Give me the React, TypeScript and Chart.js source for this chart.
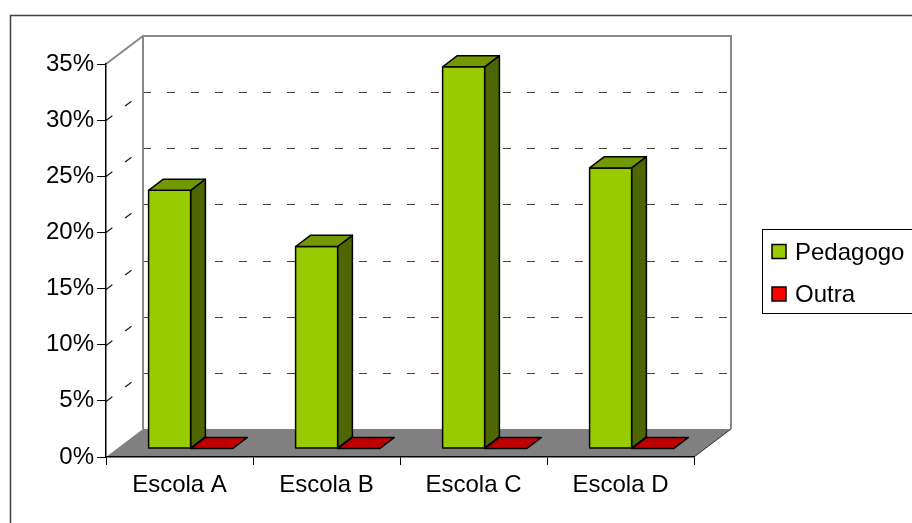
import React, { useEffect, useRef } from "react";
import { Chart, registerables } from "chart.js";

Chart.register(...registerables);

// Data (percent)
const categories = ["Escola A", "Escola B", "Escola C", "Escola D"];
const seriesNames = ["Pedagogo", "Outra"];
const pedagogo = [23, 18, 34, 25];
const outra = [0, 0, 0, 0];
const yMax = 35;
const yStep = 5;

const seriesColors = ["#99CC00", "#FF0000"];

const FONT = '"Liberation Sans", Arial, sans-serif';

// Depth of the 3D box (pixels) and where the bar row sits inside it
const DEPTH = { x: 37, y: -28 };
const ROW_FRONT = 0.3;
const ROW_BACK = 0.7;

function shade(hex: string, f: number): string {
  const n = parseInt(hex.slice(1), 16);
  const r = Math.round(((n >> 16) & 255) * f);
  const g = Math.round(((n >> 8) & 255) * f);
  const b = Math.round((n & 255) * f);
  return `rgb(${r},${g},${b})`;
}

function poly(ctx: CanvasRenderingContext2D, pts: number[][]) {
  ctx.beginPath();
  ctx.moveTo(pts[0][0], pts[0][1]);
  for (let i = 1; i < pts.length; i++) ctx.lineTo(pts[i][0], pts[i][1]);
  ctx.closePath();
}

// Frame, walls, floor and dashed gridlines
const boxPlugin = {
  id: "box3d",
  beforeDraw(chart: any) {
    const { ctx, chartArea: a, scales } = chart;
    const ys = scales.y;
    const L = a.left, R = a.right, T = a.top, B = a.bottom;
    const dx = DEPTH.x, dy = DEPTH.y;
    ctx.save();

    // outer frame
    ctx.strokeStyle = "#404040";
    ctx.lineWidth = 1.5;
    ctx.strokeRect(10.5, 15.5, 1000, 600);

    // floor
    ctx.fillStyle = "#808080";
    poly(ctx, [[L, B], [R, B], [R + dx, B + dy], [L + dx, B + dy]]);
    ctx.fill();
    ctx.strokeStyle = "#303030";
    ctx.lineWidth = 1;
    ctx.beginPath();
    ctx.moveTo(R, B);
    ctx.lineTo(R + dx, B + dy);
    ctx.stroke();

    // gridlines on side and back walls
    ctx.setLineDash([8, 16]);
    ys.ticks.forEach((t: any) => {
      if (t.value <= 0 || t.value >= yMax) return;
      const py = Math.round(ys.getPixelForValue(t.value)) + 0.5;
      ctx.strokeStyle = "#1a1a1a";
      ctx.lineWidth = 1.2;
      ctx.beginPath();
      ctx.moveTo(L, py);
      ctx.lineTo(L + dx, py + dy);
      ctx.stroke();
      ctx.strokeStyle = "#404040";
      ctx.lineWidth = 1;
      ctx.beginPath();
      ctx.moveTo(L + dx, py + dy);
      ctx.lineTo(R + dx, py + dy);
      ctx.stroke();
    });
    ctx.setLineDash([]);

    // wall edges
    ctx.strokeStyle = "#888888";
    ctx.lineWidth = 2;
    ctx.beginPath();
    ctx.moveTo(L, T);
    ctx.lineTo(L + dx, T + dy);
    ctx.lineTo(R + dx, T + dy);
    ctx.lineTo(R + dx, B + dy);
    ctx.moveTo(L + dx, T + dy);
    ctx.lineTo(L + dx, B + dy);
    ctx.stroke();
    ctx.restore();
  },
};

// Bars drawn as boxes: front, top and side faces
const barsPlugin = {
  id: "bars3d",
  beforeDatasetsDraw(chart: any) {
    const ctx = chart.ctx;
    const ox = DEPTH.x * ROW_FRONT, oy = DEPTH.y * ROW_FRONT;
    const bx = DEPTH.x * (ROW_BACK - ROW_FRONT), by = DEPTH.y * (ROW_BACK - ROW_FRONT);
    ctx.save();
    ctx.strokeStyle = "#000";
    ctx.lineWidth = 1.5;
    ctx.lineJoin = "round";
    for (let i = 0; i < categories.length; i++) {
      chart.data.datasets.forEach((ds: any, di: number) => {
        const el = chart.getDatasetMeta(di).data[i];
        const { x, y, base, width } = el.getProps(["x", "y", "base", "width"], true);
        const color = ds.backgroundColor as string;
        const x0 = x - width / 2 + ox, x1 = x + width / 2 + ox;
        const yt = y + oy, yb = base + oy;
        // side and front
        if (yb - yt > 0.5) {
          ctx.fillStyle = shade(color, 0.5);
          poly(ctx, [[x1, yt], [x1 + bx, yt + by], [x1 + bx, yb + by], [x1, yb]]);
          ctx.fill();
          ctx.stroke();
          ctx.fillStyle = color;
          poly(ctx, [[x0, yt], [x1, yt], [x1, yb], [x0, yb]]);
          ctx.fill();
          ctx.stroke();
        }
        // top
        ctx.fillStyle = shade(color, 0.75);
        poly(ctx, [[x0, yt], [x1, yt], [x1 + bx, yt + by], [x0 + bx, yt + by]]);
        ctx.fill();
        ctx.stroke();
      });
    }
    ctx.restore();
    return false;
  },
};

// Boxed legend at the right
const legendPlugin = {
  id: "boxLegend",
  afterDraw(chart: any) {
    const ctx = chart.ctx;
    const left = 762, top = 229;
    ctx.save();
    ctx.strokeStyle = "#000";
    ctx.lineWidth = 1;
    ctx.strokeRect(left + 0.5, top + 0.5, 220, 84);
    ctx.font = `24px ${FONT}`;
    ctx.textBaseline = "alphabetic";
    ctx.textAlign = "left";
    chart.data.datasets.forEach((ds: any, i: number) => {
      const sy = top + 15.5 + i * 42.5;
      ctx.fillStyle = ds.backgroundColor;
      ctx.fillRect(left + 10, sy, 14, 14);
      ctx.lineWidth = 1.5;
      ctx.strokeRect(left + 10, sy, 14, 14);
      ctx.fillStyle = "#000";
      ctx.fillText(ds.label, left + 33, sy + 15);
    });
    ctx.restore();
  },
};

export default function App() {
  const ref = useRef<HTMLCanvasElement | null>(null);

  useEffect(() => {
    document.body.style.margin = "0";
    if (!ref.current) return;
    const font = { family: FONT, size: 24 };
    const chart = new Chart(ref.current, {
      type: "bar",
      data: {
        labels: categories,
        datasets: [
          { label: seriesNames[0], data: pedagogo, backgroundColor: seriesColors[0] },
          { label: seriesNames[1], data: outra, backgroundColor: seriesColors[1] },
        ],
      },
      options: {
        responsive: false,
        animation: false,
        layout: { padding: { left: 0, top: 64, right: 218, bottom: 16 } },
        datasets: { bar: { categoryPercentage: 2 / 3.5, barPercentage: 1 } },
        plugins: { legend: { display: false }, tooltip: { enabled: false } },
        scales: {
          x: {
            type: "category",
            grid: { offset: true, drawOnChartArea: false, drawTicks: true, tickLength: 8, color: "#000", lineWidth: 1 },
            border: { display: true, color: "#000", width: 1.5 },
            ticks: { font, color: "#000", padding: 6, maxRotation: 0 },
            afterFit: (s: any) => { s.height = 50; },
          },
          y: {
            min: 0,
            max: yMax,
            ticks: { stepSize: yStep, font, color: "#000", padding: 3, callback: (v: any) => `${v}%` },
            grid: { drawOnChartArea: false, drawTicks: true, tickLength: 9, color: "#000", lineWidth: 1 },
            border: { display: true, color: "#000", width: 1.5 },
            afterFit: (s: any) => { s.width = 106; },
          },
        },
      },
      plugins: [boxPlugin, barsPlugin, legendPlugin],
    });
    return () => chart.destroy();
  }, []);

  return <canvas ref={ref} width={912} height={523} style={{ display: "block" }} />;
}
